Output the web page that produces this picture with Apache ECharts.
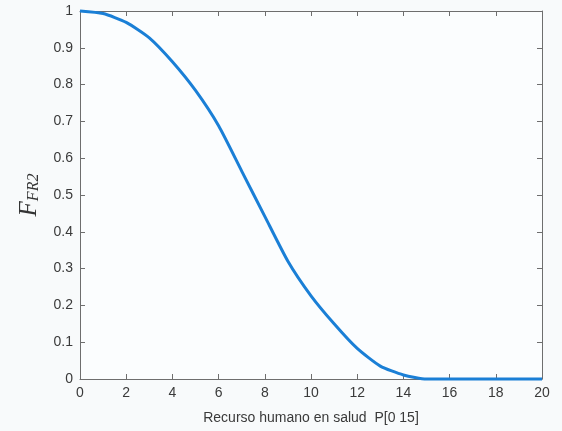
<!DOCTYPE html>
<html lang="es">
<head>
    <meta charset="UTF-8">
    <title>F_FR2</title>
    <script src="https://cdn.jsdelivr.net/npm/echarts@6/dist/echarts.min.js"></script>
    <style>
        html, body { margin: 0; padding: 0; background: #f8fafb; }
        #chart { width: 562px; height: 431px; }
    </style>
</head>
<body>
    <div id="chart"></div>
    <script>
        // datos
        var xValues = [0, 1, 2, 3, 4, 5, 6, 7, 8, 9, 10, 11, 12, 13, 14, 15, 16, 17, 18, 19, 20];
        var fValues = [1.0, 0.993, 0.969, 0.927, 0.862, 0.784, 0.688, 0.565, 0.442, 0.32, 0.226, 0.15, 0.083, 0.035, 0.011, 0, 0, 0, 0, 0, 0];
        var xTicks = [0, 2, 4, 6, 8, 10, 12, 14, 16, 18, 20];
        var yTicks = [0, 0.1, 0.2, 0.3, 0.4, 0.5, 0.6, 0.7, 0.8, 0.9, 1];

        var axisColor = '#6e6e6e';
        var points = xValues.map(function (x, i) { return [x, fValues[i]]; });

        var chart = echarts.init(document.getElementById('chart'));
        var axisBase = {
            axisLine: { show: true, onZero: false, lineStyle: { color: axisColor, width: 1 } },
            axisTick: { show: true, inside: true, length: 5, lineStyle: { color: axisColor } },
            splitLine: { show: false }
        };
        chart.setOption({
            backgroundColor: '#f8fafb',
            animation: false,
            grid: { left: 80, right: 20, top: 11, bottom: 52, show: true, backgroundColor: '#fbfdfe', borderWidth: 0 },
            xAxis: [
                Object.assign({
                    type: 'value', min: 0, max: 20, interval: 2,
                    name: 'Recurso humano en salud  P[0 15]',
                    nameLocation: 'middle', nameGap: 32,
                    nameTextStyle: { color: '#3a3a3a', fontSize: 14, fontFamily: 'Liberation Sans' },
                    axisLabel: { color: '#3a3a3a', fontSize: 14, margin: 7, fontFamily: 'Liberation Sans',
                        formatter: function (v) { return xTicks.indexOf(v) >= 0 ? String(v) : ''; } }
                }, axisBase),
                Object.assign({
                    type: 'value', min: 0, max: 20, interval: 2, position: 'top',
                    axisLabel: { show: false }
                }, axisBase)
            ],
            yAxis: [
                Object.assign({
                    type: 'value', min: 0, max: 1, interval: 0.1,
                    name: '{f|F}{s|FR2}',
                    nameLocation: 'middle', nameGap: 38, nameRotate: 90,
                    nameTextStyle: {
                        rich: {
                            f: { fontFamily: 'Liberation Serif', fontStyle: 'italic', fontSize: 25, color: '#333' },
                            s: { fontFamily: 'Liberation Serif', fontStyle: 'italic', fontSize: 16, color: '#333', padding: [10, 0, 0, 0] }
                        }
                    },
                    axisLabel: { color: '#3a3a3a', fontSize: 14, margin: 7, fontFamily: 'Liberation Sans',
                        formatter: function (v) {
                            var r = Math.round(v * 10) / 10;
                            return yTicks.indexOf(r) >= 0 ? String(r) : '';
                        } }
                }, axisBase),
                Object.assign({
                    type: 'value', min: 0, max: 1, interval: 0.1, position: 'right',
                    axisLabel: { show: false }
                }, axisBase)
            ],
            series: [{
                type: 'line',
                data: points,
                showSymbol: false,
                smooth: 0.2,
                lineStyle: { color: '#1a7fd6', width: 3 },
                clip: false
            }]
        });
    </script>
</body>
</html>
